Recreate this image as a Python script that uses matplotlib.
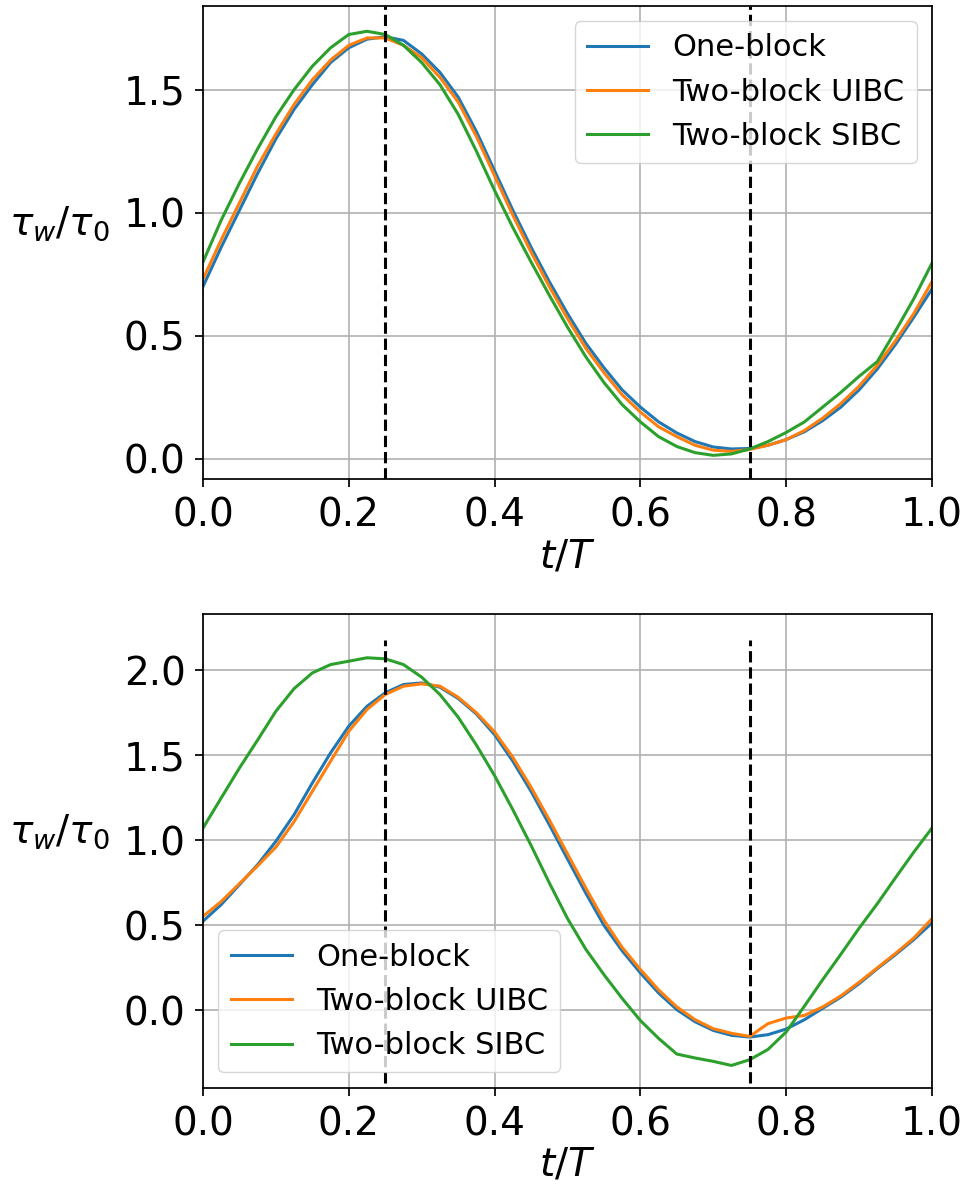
import numpy as np
import matplotlib
matplotlib.use("Agg")
import matplotlib.pyplot as plt

plt.rcParams['font.size'] = 28
plt.rcParams['legend.fontsize'] = 22
plt.rcParams['axes.linewidth'] = 1.25
plt.rcParams['grid.linewidth'] = 1.2
for ax_name in ('xtick', 'ytick'):
    plt.rcParams[ax_name + '.major.size'] = 5.5
    plt.rcParams[ax_name + '.major.width'] = 1.25
    plt.rcParams[ax_name + '.major.pad'] = 7

# phase t/T, 40 samples per period
t = np.linspace(0, 1, 41)
labels = ['One-block', 'Two-block UIBC', 'Two-block SIBC']

# top panel
top_one = [0.70, 0.86, 1.01, 1.16, 1.30, 1.42, 1.52, 1.61, 1.67, 1.705,
           1.715, 1.70, 1.645, 1.57, 1.47, 1.33, 1.17, 1.01, 0.86, 0.72,
           0.59, 0.47, 0.37, 0.28, 0.21, 0.15, 0.105, 0.07, 0.048, 0.04,
           0.042, 0.055, 0.078, 0.11, 0.155, 0.21, 0.28, 0.365, 0.465, 0.575,
           0.69]
top_uibc = [0.73, 0.89, 1.04, 1.19, 1.32, 1.44, 1.54, 1.62, 1.68, 1.71,
            1.71, 1.68, 1.63, 1.55, 1.45, 1.31, 1.15, 0.99, 0.84, 0.70,
            0.57, 0.45, 0.35, 0.26, 0.19, 0.13, 0.09, 0.055, 0.035, 0.03,
            0.038, 0.055, 0.078, 0.115, 0.165, 0.225, 0.295, 0.38, 0.48, 0.59,
            0.72]
top_sibc = [0.80, 0.97, 1.12, 1.26, 1.39, 1.50, 1.595, 1.67, 1.724, 1.737,
            1.724, 1.68, 1.61, 1.52, 1.40, 1.25, 1.09, 0.94, 0.80, 0.665,
            0.535, 0.415, 0.31, 0.22, 0.15, 0.09, 0.05, 0.025, 0.014, 0.02,
            0.04, 0.07, 0.107, 0.15, 0.21, 0.27, 0.335, 0.395, 0.52, 0.65,
            0.795]

# bottom panel
bot_one = [0.524, 0.622, 0.739, 0.857, 0.994, 1.151, 1.337, 1.514, 1.671, 1.788,
           1.867, 1.916, 1.925, 1.90, 1.834, 1.743, 1.621, 1.465, 1.288, 1.092,
           0.89, 0.69, 0.50, 0.35, 0.22, 0.102, 0.004, -0.067, -0.118, -0.147,
           -0.157, -0.143, -0.11, -0.055, 0.012, 0.078, 0.157, 0.245, 0.328, 0.416,
           0.514]
bot_uibc = [0.553, 0.64, 0.745, 0.85, 0.96, 1.11, 1.288, 1.465, 1.641, 1.769,
            1.857, 1.906, 1.92, 1.906, 1.841, 1.75, 1.637, 1.488, 1.312, 1.12,
            0.92, 0.72, 0.53, 0.37, 0.24, 0.12, 0.02, -0.055, -0.108, -0.135,
            -0.153, -0.078, -0.045, -0.03, 0.02, 0.085, 0.165, 0.25, 0.335, 0.425,
            0.539]
bot_sibc = [1.072, 1.249, 1.425, 1.59, 1.759, 1.892, 1.984, 2.033, 2.053, 2.073,
            2.067, 2.033, 1.959, 1.857, 1.724, 1.56, 1.38, 1.18, 0.97, 0.75,
            0.54, 0.36, 0.21, 0.07, -0.06, -0.165, -0.257, -0.28, -0.30, -0.324,
            -0.29, -0.23, -0.127, 0.025, 0.18, 0.33, 0.483, 0.627, 0.78, 0.93,
            1.072]

marks = [0.25, 0.75]

fig = plt.figure(figsize=(9.69, 11.88), dpi=100)
ax1 = fig.add_axes([0.2095, 0.5966, 0.7523, 0.3984])
ax2 = fig.add_axes([0.2095, 0.0844, 0.7523, 0.3987])

for y, lab in zip([top_one, top_uibc, top_sibc], labels):
    ax1.plot(t, y, lw=2.2, label=lab)
for m in marks:
    ax1.axvline(m, color='k', ls='--', lw=2.2)
ax1.set_xlim(0, 1)
ax1.set_ylim(-0.083, 1.84)
ax1.set_yticks([0.0, 0.5, 1.0, 1.5])
ax1.grid(True)
ax1.legend(loc='upper right')

for y, lab in zip([bot_one, bot_uibc, bot_sibc], labels):
    ax2.plot(t, y, lw=2.2, label=lab)
ax2.vlines(marks, -0.43, 2.18, colors='k', linestyles='--', lw=2.2)
ax2.set_xlim(0, 1)
ax2.set_ylim(-0.455, 2.33)
ax2.set_yticks([0.0, 0.5, 1.0, 1.5, 2.0])
ax2.grid(True)
ax2.legend(loc='lower left')

for ax in (ax1, ax2):
    ax.set_xlabel(r'$t/T$', labelpad=2)
    ax.set_ylabel(r'$\tau_w/\tau_0$', rotation=0, ha='right', va='bottom')
    ax.yaxis.set_label_coords(-0.128, 0.5)

fig.savefig('out.png', dpi=100)
